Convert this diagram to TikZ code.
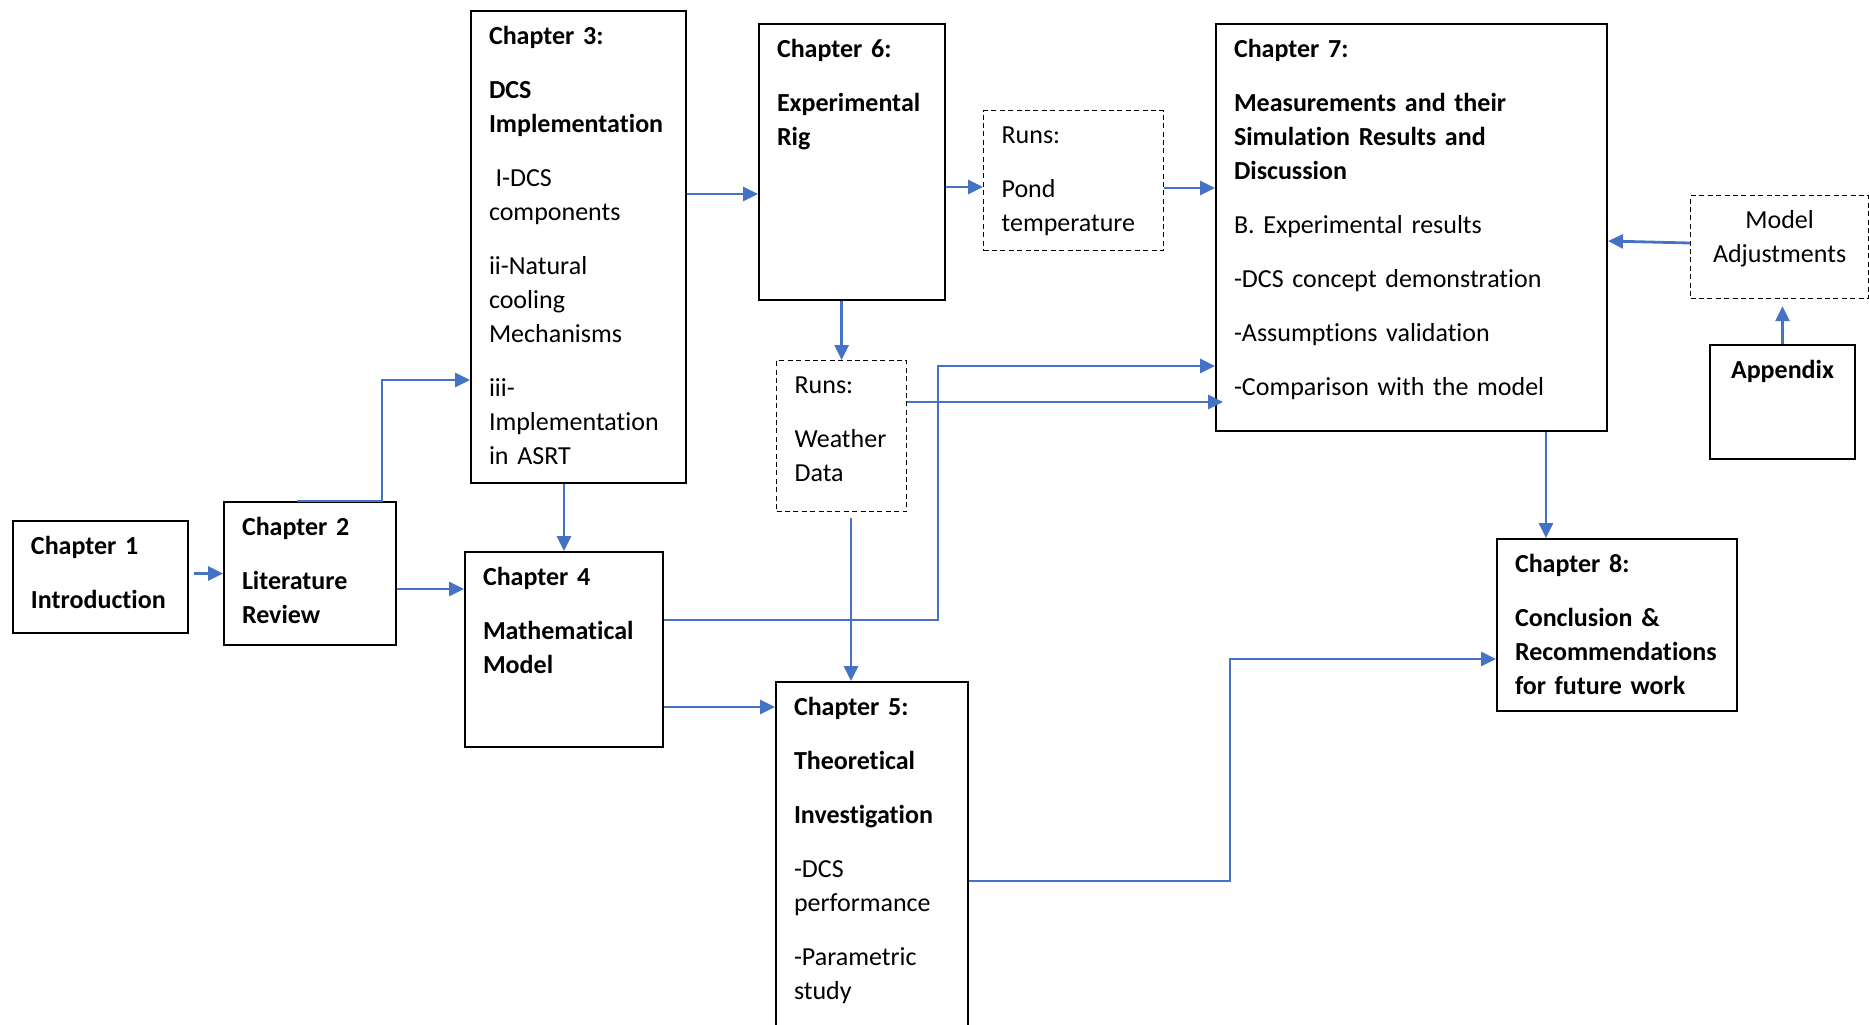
\documentclass[tikz,border=0pt]{standalone}
\usepackage{fontspec}
\setmainfont{Carlito}[Ligatures={NoCommon,NoRequired,NoContextual}]
\usepackage{xcolor}
\usepackage{tikz}
\usetikzlibrary{arrows.meta,positioning,calc}

\definecolor{linkblue}{RGB}{68,114,196}
\hyphenpenalty=10000
\exhyphenpenalty=10000

\tikzset{
  chap/.style={draw, line width=1pt, anchor=north west, align=left,
    inner xsep=9pt, inner ysep=6.5pt, text height=10pt,
    font=\fontsize{13}{17}\selectfont},
  runs/.style={chap, line width=0.6pt, dash pattern=on 2.5pt off 1.7pt},
  arr/.style={linkblue, line width=1.4pt, -{Triangle[length=7.5pt,width=7pt]}}
}

\begin{document}
\begin{tikzpicture}[x=0.5pt,y=-0.5pt]
      \useasboundingbox (0,0) rectangle (1869,1024);
      \clip (0,0) rectangle (1869,1024);

      \node[chap, text width=69.5pt, text depth=33pt] (intro) at (12,520)
        {\textbf{Chapter 1}\\[10pt]\textbf{Introduction}} ;
      \node[chap, text width=68pt, text depth=48.5pt] (litrev) at (223,501)
        {\textbf{Chapter 2}\\[10pt]\textbf{Literature}\\\textbf{Review}} ;
      \node[chap, text width=89.5pt, text depth=213pt] (dcs) at (470,10)
        {\textbf{Chapter 3:}\\[10pt]\textbf{DCS}\\\textbf{Implementation}\\[10pt]
         \hspace*{0.25em}I-DCS\\components\\[10pt]
         ii-Natural\\cooling\\Mechanisms\\[10pt]
         iii-\\Implementation\\in ASRT} ;
      \node[chap, text width=81pt, text depth=74.5pt] (model) at (464,551)
        {\textbf{Chapter 4}\\[10pt]\textbf{Mathematical}\\\textbf{Model}} ;
      \node[chap, text width=78pt, text depth=157pt] (theory) at (775,681)
        {\textbf{Chapter 5:}\\[10pt]\textbf{Theoretical}\\[10pt]\textbf{Investigation}\\[10pt]
         -DCS\\performance\\[10pt]-Parametric\\study} ;
      \node[chap, text width=75pt, text depth=115pt] (rig) at (758,23)
        {\textbf{Chapter 6:}\\[10pt]\textbf{Experimental}\\\textbf{Rig}} ;
      \node[runs, text width=72pt, text depth=47pt] (pond) at (983,110)
        {Runs:\\[10pt]Pond\\temperature} ;
      \node[runs, text width=47pt, text depth=52.5pt] (weather) at (776,360)
        {Runs:\\[10pt]Weather\\Data} ;
      \node[chap, text width=177.5pt, text depth=180.5pt] (results) at (1215,23)
        {\textbf{Chapter 7:}\\[10pt]\textbf{Measurements and their}\\
         \textbf{Simulation Results and}\\\textbf{Discussion}\\[10pt]
         B. Experimental results\\[10pt]-DCS concept demonstration\\[10pt]
         -Assumptions validation\\[10pt]-Comparison with the model} ;
      \node[runs, align=center, text width=71pt, text depth=28.5pt] (adjust) at (1690,195)
        {Model\\Adjustments} ;
      \node[chap, align=center, text width=54.5pt, text depth=34pt] (appendix) at (1709,344)
        {\textbf{Appendix}} ;
      \node[chap, text width=102pt, text depth=63pt] (concl) at (1496,538)
        {\textbf{Chapter 8:}\\[10pt]\textbf{Conclusion \&}\\\textbf{Recommendations}\\
         \textbf{for future work}} ;

      \path[arr]
      (intro.east |- litrev.west) edge[shorten <=2.5pt] (litrev.west)
      (litrev.east |- 0,589) edge (model.west |- 0,589)
      (dcs.south -| model.north) edge (model.north)
      (dcs.east |- 0,194) edge (rig.west |- 0,194)
      (rig.east |- 0,187) edge (pond.west |- 0,187)
      (pond.east |- 0,188) edge (results.west |- 0,188)
      (rig.south -| weather.north) edge (weather.north)
      (weather.east |- 0,402) edge[shorten >=-4pt] (results.west |- 0,402)
      (model.east |- 0,707) edge (theory.west |- 0,707)
      (results.south -| 1546,0) edge (concl.north -| 1546,0)
      (adjust.west |- 0,243) edge (results.east |- 0,241)
      (appendix.north) edge[shorten >=3.5pt] (adjust.south -| appendix.north)
      ;

      \coordinate (j23) at (382,380) ;
      \coordinate (j47) at (938,366) ;
      \coordinate (w5) at (851,518) ;
      \coordinate (j58) at (1230,659) ;

      \draw[arr] ([xshift=-6.5pt]litrev.north) -| (j23) -- (j23 -| dcs.west) ;
      \draw[arr] (model.east |- 0,620) -| (j47) -- (j47 -| results.west) ;
      \draw[arr] (w5) -- (w5 |- theory.north) ;
      \draw[arr] (theory.east |- 0,881) -| (j58) -- (j58 -| concl.west) ;

    \end{tikzpicture}
\end{document}
